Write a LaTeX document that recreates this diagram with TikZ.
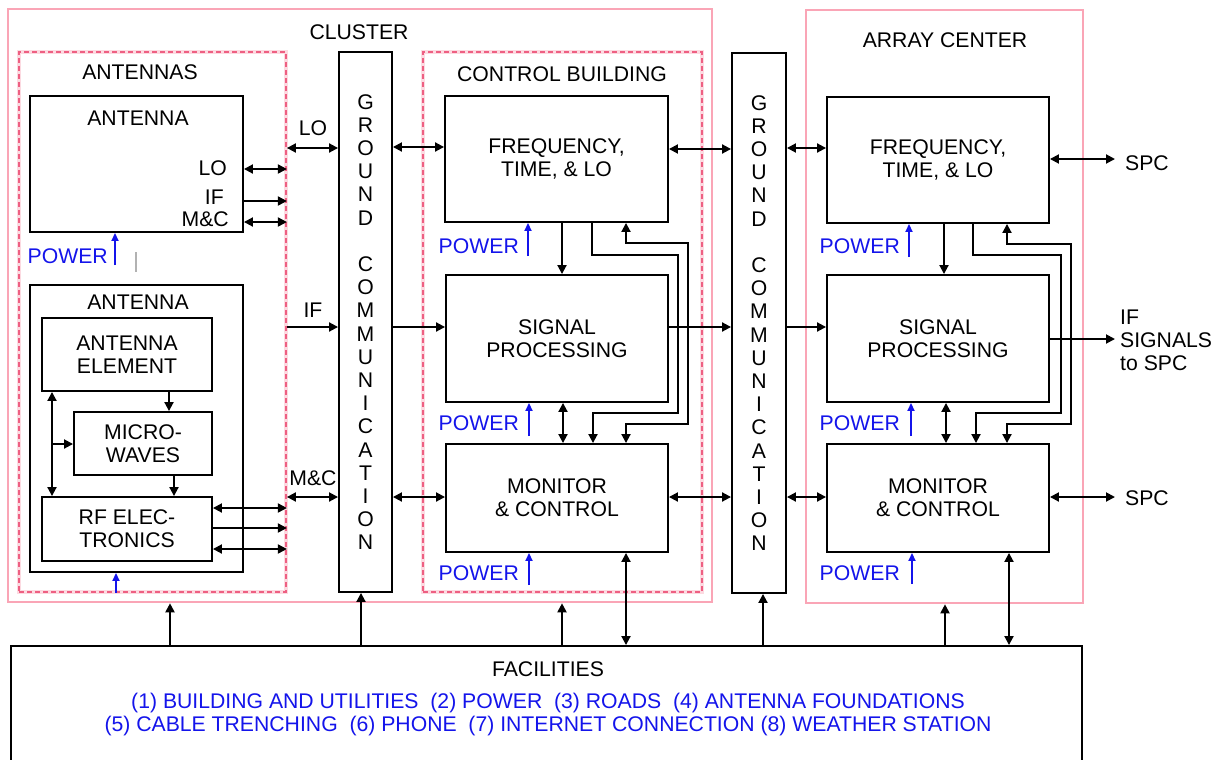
\documentclass[tikz,border=0pt]{standalone}
\usepackage{fontspec}
\setmainfont{Liberation Sans}
\usetikzlibrary{arrows.meta}
\definecolor{pinkline}{RGB}{250,165,182}
\definecolor{pinkdash}{RGB}{238,95,130}
\definecolor{pinkhalo}{RGB}{252,218,225}
\definecolor{pblue}{RGB}{20,20,235}
\begin{document}
\begin{tikzpicture}[x=1pt,y=-1pt,
  font=\fontsize{21.2}{23}\selectfont,
  box/.style={draw=black, line width=1.9pt, rectangle, inner sep=0pt, align=center},
  solidframe/.style={draw=pinkline, line width=2.6pt, rectangle, inner sep=0pt},
  dashframe/.style={draw=pinkdash, line width=1.8pt, dash pattern=on 5pt off 3pt, rectangle, inner sep=0pt,
    preaction={draw=pinkhalo, line width=4.5pt, solid}},
  lbl/.style={inner sep=0pt, align=center},
  tip/.tip={Triangle[length=9pt,width=9pt]},
  conn/.style={line width=1.9pt, -tip},
  dconn/.style={line width=1.9pt, tip-tip},
  pw/.style={text=pblue, inner sep=0pt, anchor=east},
  pwarrow/.style={draw=pblue, line width=1.7pt, -{Triangle[length=8pt,width=7pt]}},
]
\useasboundingbox (0,0) rectangle (1223,760);
\clip (0,0) rectangle (1223,760);
\fill[white] (0,0) rectangle (1223,760);

% containers
\node[solidframe, minimum width=704pt, minimum height=593pt] (cluster) at (360,305.5) {};
\node[solidframe, minimum width=277pt, minimum height=593pt] (array) at (944.5,306.5) {};
\node[dashframe, minimum width=267pt, minimum height=540pt] (antennas) at (152.5,322) {};
\node[dashframe, minimum width=279pt, minimum height=540pt] (control) at (562.5,322) {};

\node[lbl] (clusterlbl) at (359,32) {CLUSTER};
\node[lbl] (arraylbl) at (945,40) {ARRAY CENTER};
\node[lbl] (antennaslbl) at (140,72) {ANTENNAS};
\node[lbl] (controllbl) at (562,74) {CONTROL BUILDING};

% ground communication columns
\node[box, fill=white, minimum width=53pt, minimum height=540pt, font=\fontsize{21.2}{23.2}\selectfont] (gc1) at (365.5,322)
  {G\\R\\O\\U\\N\\D\\[23.2pt]C\\O\\M\\M\\U\\N\\I\\C\\A\\T\\I\\O\\N};
\node[box, fill=white, minimum width=54pt, minimum height=540pt, font=\fontsize{21.2}{23.2}\selectfont] (gc2) at (759,323)
  {G\\R\\O\\U\\N\\D\\[23.2pt]C\\O\\M\\M\\U\\N\\I\\C\\A\\T\\I\\O\\N};

% antennas
\node[box, minimum width=213pt, minimum height=136pt] (ant1) at (136.5,164) {};
\node[lbl] (ant1lbl) at (138,118) {ANTENNA};
\node[lbl, anchor=east] (ant1lo) at (227,168) {LO};
\node[lbl, anchor=east] (ant1if) at (224,197) {IF};
\node[lbl, anchor=east] (ant1mc) at (229,219) {M\&C};

\node[box, minimum width=213pt, minimum height=287pt] (ant2) at (136.5,428.5) {};
\node[lbl] (ant2lbl) at (138,302) {ANTENNA};
\node[box, minimum width=170pt, minimum height=73pt] (elem) at (127,354.5) {ANTENNA\\ELEMENT};
\node[box, minimum width=138pt, minimum height=63pt] (micro) at (143,443.5) {MICRO-\\WAVES};
\node[box, minimum width=170pt, minimum height=64pt] (rf) at (127,529) {RF ELEC-\\TRONICS};

% control building boxes
\node[box, minimum width=223pt, minimum height=126pt] (freqA) at (556.5,159) {FREQUENCY,\\TIME, \& LO};
\node[box, minimum width=222pt, minimum height=127pt] (spA) at (557,338.5) {SIGNAL\\PROCESSING};
\node[box, minimum width=222pt, minimum height=108pt] (mcA) at (557,498) {MONITOR\\\& CONTROL};

% array center boxes
\node[box, minimum width=222pt, minimum height=126pt] (freqB) at (938,160) {FREQUENCY,\\TIME, \& LO};
\node[box, minimum width=222pt, minimum height=127pt] (spB) at (938,338.5) {SIGNAL\\PROCESSING};
\node[box, minimum width=222pt, minimum height=108pt] (mcB) at (938,498) {MONITOR\\\& CONTROL};

% facilities
\node[box, minimum width=1071pt, minimum height=154pt] (fac) at (546.5,723) {};
\node[lbl] (factitle) at (548,669) {FACILITIES};
\node[lbl, text=pblue] (facl1) at (548,703) {(1) BUILDING AND UTILITIES\ \ (2) POWER\ \ (3) ROADS\ \ (4) ANTENNA FOUNDATIONS};
\node[lbl, text=pblue] (facl2) at (548,726) {(5) CABLE TRENCHING\ \ (6) PHONE\ \ (7) INTERNET CONNECTION (8) WEATHER STATION};

% outside labels
\node[lbl, anchor=west] (spc1) at (1125,163) {SPC};
\node[lbl, anchor=west, align=left] (ifspc) at (1120,340) {IF\\SIGNALS\\to SPC};
\node[lbl, anchor=west] (spc2) at (1125,498) {SPC};
\coordinate (spc1end) at (1115,159);
\coordinate (ifend) at (1115,339);
\coordinate (spc2end) at (1115,497);

% connector labels near gc1
\node[lbl] (lolbl) at (313,128) {LO};
\node[lbl] (iflbl) at (313,310) {IF};
\node[lbl] (mclbl) at (313,478) {M\&C};

% antenna 1 outputs
\draw[dconn] (ant1.east |- 0,169) -- (antennas.east |- 0,169);
\draw[conn] (ant1.east |- 0,201) -- (antennas.east |- 0,201);
\draw[dconn] (ant1.east |- 0,222) -- (antennas.east |- 0,222);
% RF outputs
\draw[dconn] (rf.east |- 0,508) -- (antennas.east |- 0,508);
\draw[conn] (rf.east |- 0,528) -- (antennas.east |- 0,528);
\draw[dconn] (rf.east |- 0,549) -- (antennas.east |- 0,549);
% inside antenna 2
\draw[conn] (elem.south -| 169,0) -- (micro.north -| 169,0);
\draw[conn] (micro.south -| 174,0) -- (rf.north -| 174,0);
\draw[dconn] (elem.south -| 52,0) -- (rf.north -| 52,0);
\coordinate (branch) at (52,444);
\draw[conn] (branch) -- (micro.west |- branch);

% antennas to gc1
\draw[dconn] (antennas.east |- 0,148) -- (gc1.west |- 0,148);
\draw[conn] (antennas.east |- 0,327) -- (gc1.west |- 0,327);
\draw[dconn] (antennas.east |- 0,497) -- (gc1.west |- 0,497);

% gc1 to control
\draw[dconn] (gc1.east |- 0,147) -- (freqA.west |- 0,147);
\draw[conn] (gc1.east |- 0,327) -- (spA.west |- 0,327);
\draw[dconn] (gc1.east |- 0,497) -- (mcA.west |- 0,497);

% control to gc2
\draw[dconn] (freqA.east |- 0,149) -- (gc2.west |- 0,149);
\draw[conn] (spA.east |- 0,327) -- (gc2.west |- 0,327);
\draw[dconn] (mcA.east |- 0,497) -- (gc2.west |- 0,497);

% gc2 to array
\draw[dconn] (gc2.east |- 0,148) -- (freqB.west |- 0,148);
\draw[conn] (gc2.east |- 0,327) -- (spB.west |- 0,327);
\draw[dconn] (gc2.east |- 0,497) -- (mcB.west |- 0,497);

% array to SPC
\draw[dconn] (freqB.east |- spc1end) -- (spc1end);
\draw[conn] (spB.east |- ifend) -- (ifend);
\draw[dconn] (mcB.east |- spc2end) -- (spc2end);

% control internal
\draw[conn] (freqA.south -| 562,0) -- (spA.north -| 562,0);
\draw[dconn] (spA.south -| 563,0) -- (mcA.north -| 563,0);
\draw[conn] (freqA.south -| 592,0) |- (678,255) |- (593,413) -- (mcA.north -| 593,0);
\draw[dconn] (freqA.south -| 626,0) |- (688,243) |- (626,424) -- (mcA.north -| 626,0);

% array internal
\draw[conn] (freqB.south -| 944,0) -- (spB.north -| 944,0);
\draw[dconn] (spB.south -| 946,0) -- (mcB.north -| 946,0);
\draw[conn] (freqB.south -| 973,0) |- (1061,255) |- (976,413) -- (mcB.north -| 976,0);
\draw[dconn] (freqB.south -| 1007,0) |- (1071,244) |- (1007,424) -- (mcB.north -| 1007,0);

% power
\node[pw] (pw1) at (108,256) {POWER};
\draw[pwarrow] (115,265) -- (ant1.south -| 115,0);
\draw[pwarrow] (antennas.south -| 116,0) -- (ant2.south -| 116,0);
\draw[gray!60, line width=2pt] (136,252) -- (136,272);

\node[pw] (pw2) at (519,246) {POWER};
\draw[pwarrow] (528,256) -- (freqA.south -| 528,0);
\node[pw] (pw3) at (519,423) {POWER};
\draw[pwarrow] (529,436) -- (spA.south -| 529,0);
\node[pw] (pw4) at (519,573) {POWER};
\draw[pwarrow] (529,585) -- (mcA.south -| 529,0);

\node[pw] (pw5) at (900,246) {POWER};
\draw[pwarrow] (909,257) -- (freqB.south -| 909,0);
\node[pw] (pw6) at (900,423) {POWER};
\draw[pwarrow] (911,436) -- (spB.south -| 911,0);
\node[pw] (pw7) at (900,573) {POWER};
\draw[pwarrow] (912,584) -- (mcB.south -| 912,0);

% facilities connections
\draw[conn] (fac.north -| 170,0) -- (cluster.south -| 170,0);
\draw[conn] (fac.north -| 361,0) -- (gc1.south -| 361,0);
\draw[conn] (fac.north -| 562,0) -- (cluster.south -| 562,0);
\draw[dconn] (mcA.south -| 626,0) -- (fac.north -| 626,0);
\draw[conn] (fac.north -| 763,0) -- (gc2.south -| 763,0);
\draw[conn] (fac.north -| 945,0) -- (array.south -| 945,0);
\draw[dconn] (mcB.south -| 1009,0) -- (fac.north -| 1009,0);
\end{tikzpicture}
\end{document}
